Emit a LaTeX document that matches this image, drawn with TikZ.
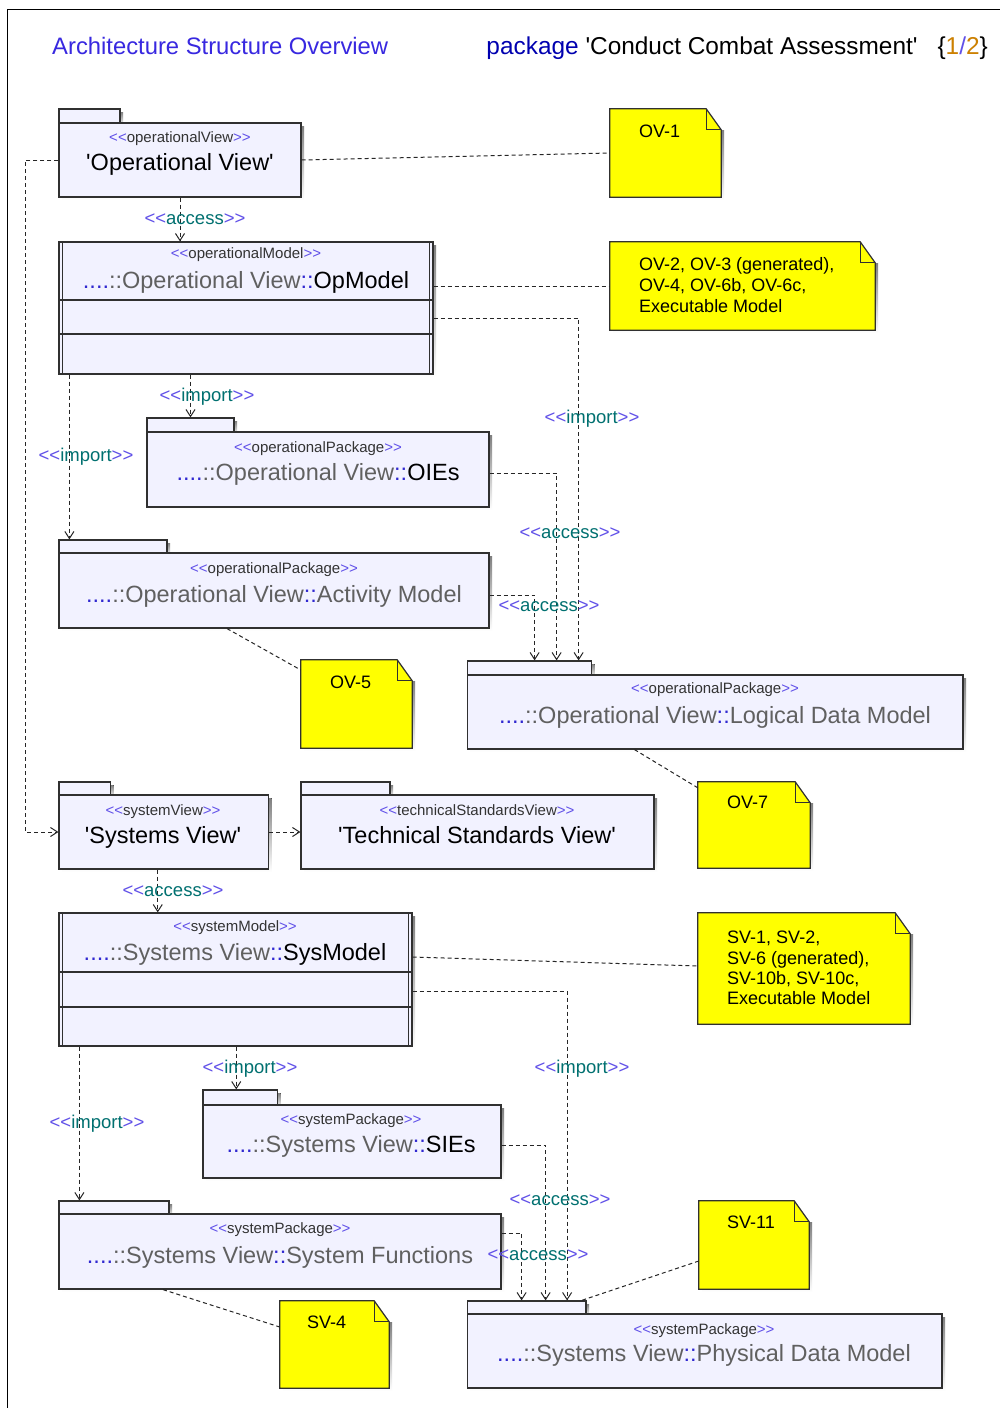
\documentclass[tikz,border=0pt]{standalone}
\usepackage{fontspec}
\newfontfamily\umlfont{Liberation Sans}
\usetikzlibrary{arrows.meta,fit}

\definecolor{pkgfill}{RGB}{242,242,255}
\definecolor{edge}{RGB}{48,48,48}
\definecolor{notefill}{RGB}{255,255,0}
\definecolor{shade}{RGB}{190,190,190}
\definecolor{chev}{RGB}{96,80,232}
\definecolor{kind}{RGB}{0,112,112}
\definecolor{qual}{RGB}{48,40,208}
\definecolor{dimtext}{RGB}{96,96,96}
\definecolor{titleblue}{RGB}{56,40,224}
\definecolor{pkgword}{RGB}{0,0,176}
\definecolor{pagenum}{RGB}{204,128,0}

\tikzset{
  body/.style={draw=edge, fill=pkgfill, line width=1.2pt, inner sep=0pt},
  rule/.style={draw=edge, line width=1.2pt},
  notebody/.style={draw=edge, fill=notefill, line width=1.2pt},
  notefold/.style={draw=edge, line width=1.2pt},
  stereo/.style={font=\umlfont\fontsize{15}{18}\selectfont, text=black!80, anchor=base, yshift=-5.4pt, inner sep=0pt},
  pkgname/.style={font=\umlfont\fontsize{23.5}{28}\selectfont, anchor=base, yshift=-8.4pt, inner sep=0pt},
  deplabel/.style={font=\umlfont\fontsize{18.5}{22}\selectfont, anchor=base, yshift=-5pt, inner sep=0pt},
  notetext/.style={font=\umlfont\fontsize{18}{21}\selectfont, anchor=base west, yshift=-6.5pt, inner sep=0pt},
  headline/.style={font=\umlfont\fontsize{23.8}{28}\selectfont, inner sep=0pt},
  dep/.style={draw=black!85, line width=1pt, dash pattern=on 4pt off 3pt,
    -{Straight Barb[length=7pt,width=9pt,line width=1pt]}},
  link/.style={draw=black!85, line width=1pt, dash pattern=on 4pt off 3pt},
}

% package: name, left, tab top, tab right, body top, right, bottom
\newcommand\umlpkg[7]{%
  \fill[shade] (#2+3,#3+3) rectangle (#4+3,#5+3);
  \fill[shade] (#2+3,#5+3) rectangle (#6+3,#7+3);
  \node[body, fit={(#2,#3) (#4,#5)}] (#1tab) {};
  \node[body, fit={(#2,#5) (#6,#7)}] (#1) {};
}
% model box with doubled sides: name, left, top, right, bottom, rule 1, rule 2
\newcommand\umlmodel[7]{%
  \fill[shade] (#2+3,#3+3) rectangle (#4+3,#5+3);
  \node[body, fit={(#2,#3) (#4,#5)}] (#1) {};
  \draw[rule] (#2+3.5,#3) -- (#2+3.5,#5);
  \draw[rule] (#4-3.5,#3) -- (#4-3.5,#5);
  \draw[rule] (#2,#6) -- (#4,#6);
  \draw[rule] (#2,#7) -- (#4,#7);
}
% note with folded corner: name, left, top, right, bottom
\newcommand\umlnote[5]{%
  \fill[shade] (#2+3,#3+21) rectangle (#4+3,#5+3);
  \node[inner sep=0pt, fit={(#2,#3) (#4,#5)}] (#1) {};
  \filldraw[notebody] (#1.north west) -- ([xshift=-15pt]#1.north east)
    -- ([yshift=-21pt]#1.north east) -- (#1.south east) -- (#1.south west) -- cycle;
  \draw[notefold] ([xshift=-15pt]#1.north east) |- ([yshift=-21pt]#1.north east);
}
\newcommand\stereotxt[1]{\textcolor{chev}{<<}#1\textcolor{chev}{>>}}
\newcommand\deptxt[1]{\textcolor{chev}{<<}\textcolor{kind}{#1}\textcolor{chev}{>>}}
\newcommand\qualname[3]{\textcolor{qual}{....}\textcolor{dimtext}{::#1}\textcolor{qual}{::}\textcolor{#3}{#2}}

\begin{document}
\begin{tikzpicture}[x=1pt, y=-1pt]
\useasboundingbox (0,0) rectangle (1000,1408);
\fill[white] (0,0) rectangle (1000,1408);
\draw[line width=1.5pt, black] (7.5,1408) -- (7.5,9.5) -- (1000,9.5);

% heading
\node[headline, text=titleblue, anchor=base west] (title) at (52,54.4) {Architecture Structure Overview};
\node[headline, font=\umlfont\fontsize{24.4}{28}\selectfont, anchor=base east] (pkgtitle) at (988,54.4)
  {\textcolor{pkgword}{package} 'Conduct Combat Assessment'\hspace{20pt}\{\textcolor{pagenum}{1}\textcolor{chev}{/}\textcolor{pagenum}{2}\}};

% operational side
\umlpkg{opview}{59}{109}{120}{123}{301}{197}
\umlmodel{opmodel}{59}{242}{433}{374}{300}{334}
\umlpkg{oies}{147}{418}{234}{432}{489}{507}
\umlpkg{act}{59}{540}{167}{553}{489}{628}
\umlpkg{ldm}{467.5}{661}{591.5}{675}{963}{749}

% systems side
\umlpkg{sysview}{59}{782}{110.5}{795}{268.5}{869}
\umlpkg{tsv}{301}{782}{390}{795}{654}{869}
\umlmodel{sysmodel}{59}{913}{412}{1046}{972}{1007}
\umlpkg{sies}{203}{1090}{277.5}{1105}{501}{1178}
\umlpkg{sysfunc}{59}{1201}{169}{1214}{501}{1289}
\umlpkg{pdm}{467.5}{1301}{586}{1314}{942}{1388}

% notes
\umlnote{ovone}{610}{109}{721}{197}
\umlnote{ovtwo}{610}{242}{875}{330}
\umlnote{ovfive}{301}{660}{412}{748}
\umlnote{ovseven}{698}{782}{810}{868}
\umlnote{svnote}{698}{913}{910}{1024}
\umlnote{svfour}{280}{1301}{389}{1388}
\umlnote{sveleven}{699}{1201}{809}{1289}

% package texts
\node[stereo] (opviewst) at (180,137) {\stereotxt{operationalView}};
\node[pkgname] (opviewnm) at (180,162) {'Operational View'};
\node[stereo] (opmodelst) at (246,253) {\stereotxt{operationalModel}};
\node[pkgname] (opmodelnm) at (246,280) {\qualname{Operational View}{OpModel}{black}};
\node[stereo] (oiesst) at (318,447) {\stereotxt{operationalPackage}};
\node[pkgname] (oiesnm) at (318,472) {\qualname{Operational View}{OIEs}{black}};
\node[stereo] (actst) at (274,568) {\stereotxt{operationalPackage}};
\node[pkgname] (actnm) at (274,594) {\qualname{Operational View}{Activity Model}{dimtext}};
\node[stereo] (ldmst) at (715,688) {\stereotxt{operationalPackage}};
\node[pkgname] (ldmnm) at (715,715) {\qualname{Operational View}{Logical Data Model}{dimtext}};
\node[stereo] (sysviewst) at (163,810) {\stereotxt{systemView}};
\node[pkgname] (sysviewnm) at (163,835) {'Systems View'};
\node[stereo] (tsvst) at (477,810) {\stereotxt{technicalStandardsView}};
\node[pkgname] (tsvnm) at (477,835) {'Technical Standards View'};
\node[stereo] (sysmodelst) at (235,926) {\stereotxt{systemModel}};
\node[pkgname] (sysmodelnm) at (235,952) {\qualname{Systems View}{SysModel}{black}};
\node[stereo] (siesst) at (351,1119) {\stereotxt{systemPackage}};
\node[pkgname] (siesnm) at (351,1144) {\qualname{Systems View}{SIEs}{black}};
\node[stereo] (sysfuncst) at (280,1228) {\stereotxt{systemPackage}};
\node[pkgname] (sysfuncnm) at (280,1255) {\qualname{Systems View}{System Functions}{dimtext}};
\node[stereo] (pdmst) at (704,1329) {\stereotxt{systemPackage}};
\node[pkgname] (pdmnm) at (704,1353) {\qualname{Systems View}{Physical Data Model}{dimtext}};

% note texts
\node[notetext] (ovonet) at (639,131) {OV-1};
\node[notetext] (ovtwoa) at (639,264) {OV-2, OV-3 (generated),};
\node[notetext] (ovtwob) at (639,285) {OV-4, OV-6b, OV-6c,};
\node[notetext] (ovtwoc) at (639,306) {Executable Model};
\node[notetext] (ovfivet) at (330,682) {OV-5};
\node[notetext] (ovsevent) at (727,802) {OV-7};
\node[notetext] (svnotea) at (727,937) {SV-1, SV-2,};
\node[notetext] (svnoteb) at (727,958) {SV-6 (generated),};
\node[notetext] (svnotec) at (727,978) {SV-10b, SV-10c,};
\node[notetext] (svnoted) at (727,998) {Executable Model};
\node[notetext] (svfourt) at (307,1322) {SV-4};
\node[notetext] (svelevent) at (727,1222) {SV-11};

% dependencies, operational side
\draw[dep] (opview.south) -- (opview.south |- opmodel.north);
\draw[dep] (opmodel.south -| oiestab.north) -- (oiestab.north);
\draw[dep] ([xshift=11pt]opmodel.south west) -- ([xshift=11pt]acttab.north west);
\draw[dep] ([yshift=-10pt]opmodel.east) -| ([xshift=-13.5pt]ldmtab.north east);
\draw[dep] ([yshift=-3.5pt]oies.east) -| ([xshift=-35.5pt]ldmtab.north east);
\draw[dep] ([yshift=-4.5pt]act.east) -| ([xshift=-57.5pt]ldmtab.north east);
\draw[dep] (opview.west) -- ++(-33,0) |- (sysview.west);

% dependencies, systems side
\coordinate (svdrop) at ([xshift=-6pt]sysview.south);
\draw[dep] (svdrop) -- (svdrop |- sysmodel.north);
\draw[dep] (sysview.east) -- (tsv.west);
\coordinate (siesin) at ([xshift=-4pt]siestab.north);
\draw[dep] (siesin |- sysmodel.south) -- (siesin);
\draw[dep] ([xshift=21pt]sysmodel.south west) -- ([xshift=21pt]sysfunctab.north west);
\draw[dep] ([yshift=-11.5pt]sysmodel.east) -| ([xshift=-19.5pt]pdmtab.north east);
\draw[dep] ([yshift=-3.5pt]sies.east) -| ([xshift=-41pt]pdmtab.north east);
\draw[dep] ([yshift=18.5pt]sysfunc.east) -| ([xshift=-65pt]pdmtab.north east);

% note links
\draw[link] (opview.east) -- (ovone.west);
\draw[link] (opmodel.east |- ovtwo.west) -- (ovtwo.west);
\draw[link] ([xshift=-47pt]act.south) -- ([yshift=34pt]ovfive.west);
\draw[link] ([xshift=-80.75pt]ldm.south) -- ([yshift=-6pt]ovseven.north west);
\draw[link] ([yshift=22.5pt]sysmodel.east) -- ([yshift=2.5pt]svnote.west);
\draw[link] ([xshift=-117pt]sysfunc.south) -- ([yshift=17.5pt]svfour.west);
\draw[link] ([yshift=-16pt]sveleven.west) -- ([xshift=-5pt]pdmtab.north east);

% dependency labels
\node[deplabel] (lacc1) at (195,219) {\deptxt{access}};
\node[deplabel] (limp1) at (207,396) {\deptxt{import}};
\node[deplabel] (limp2) at (86,456) {\deptxt{import}};
\node[deplabel] (limp3) at (592,418) {\deptxt{import}};
\node[deplabel] (lacc2) at (570,533) {\deptxt{access}};
\node[deplabel] (lacc3) at (549,606) {\deptxt{access}};
\node[deplabel] (lacc4) at (173,891) {\deptxt{access}};
\node[deplabel] (limp4) at (250,1068) {\deptxt{import}};
\node[deplabel] (limp5) at (97,1123) {\deptxt{import}};
\node[deplabel] (limp6) at (582,1068) {\deptxt{import}};
\node[deplabel] (lacc5) at (560,1200) {\deptxt{access}};
\node[deplabel] (lacc6) at (538,1255) {\deptxt{access}};
\end{tikzpicture}
\end{document}
